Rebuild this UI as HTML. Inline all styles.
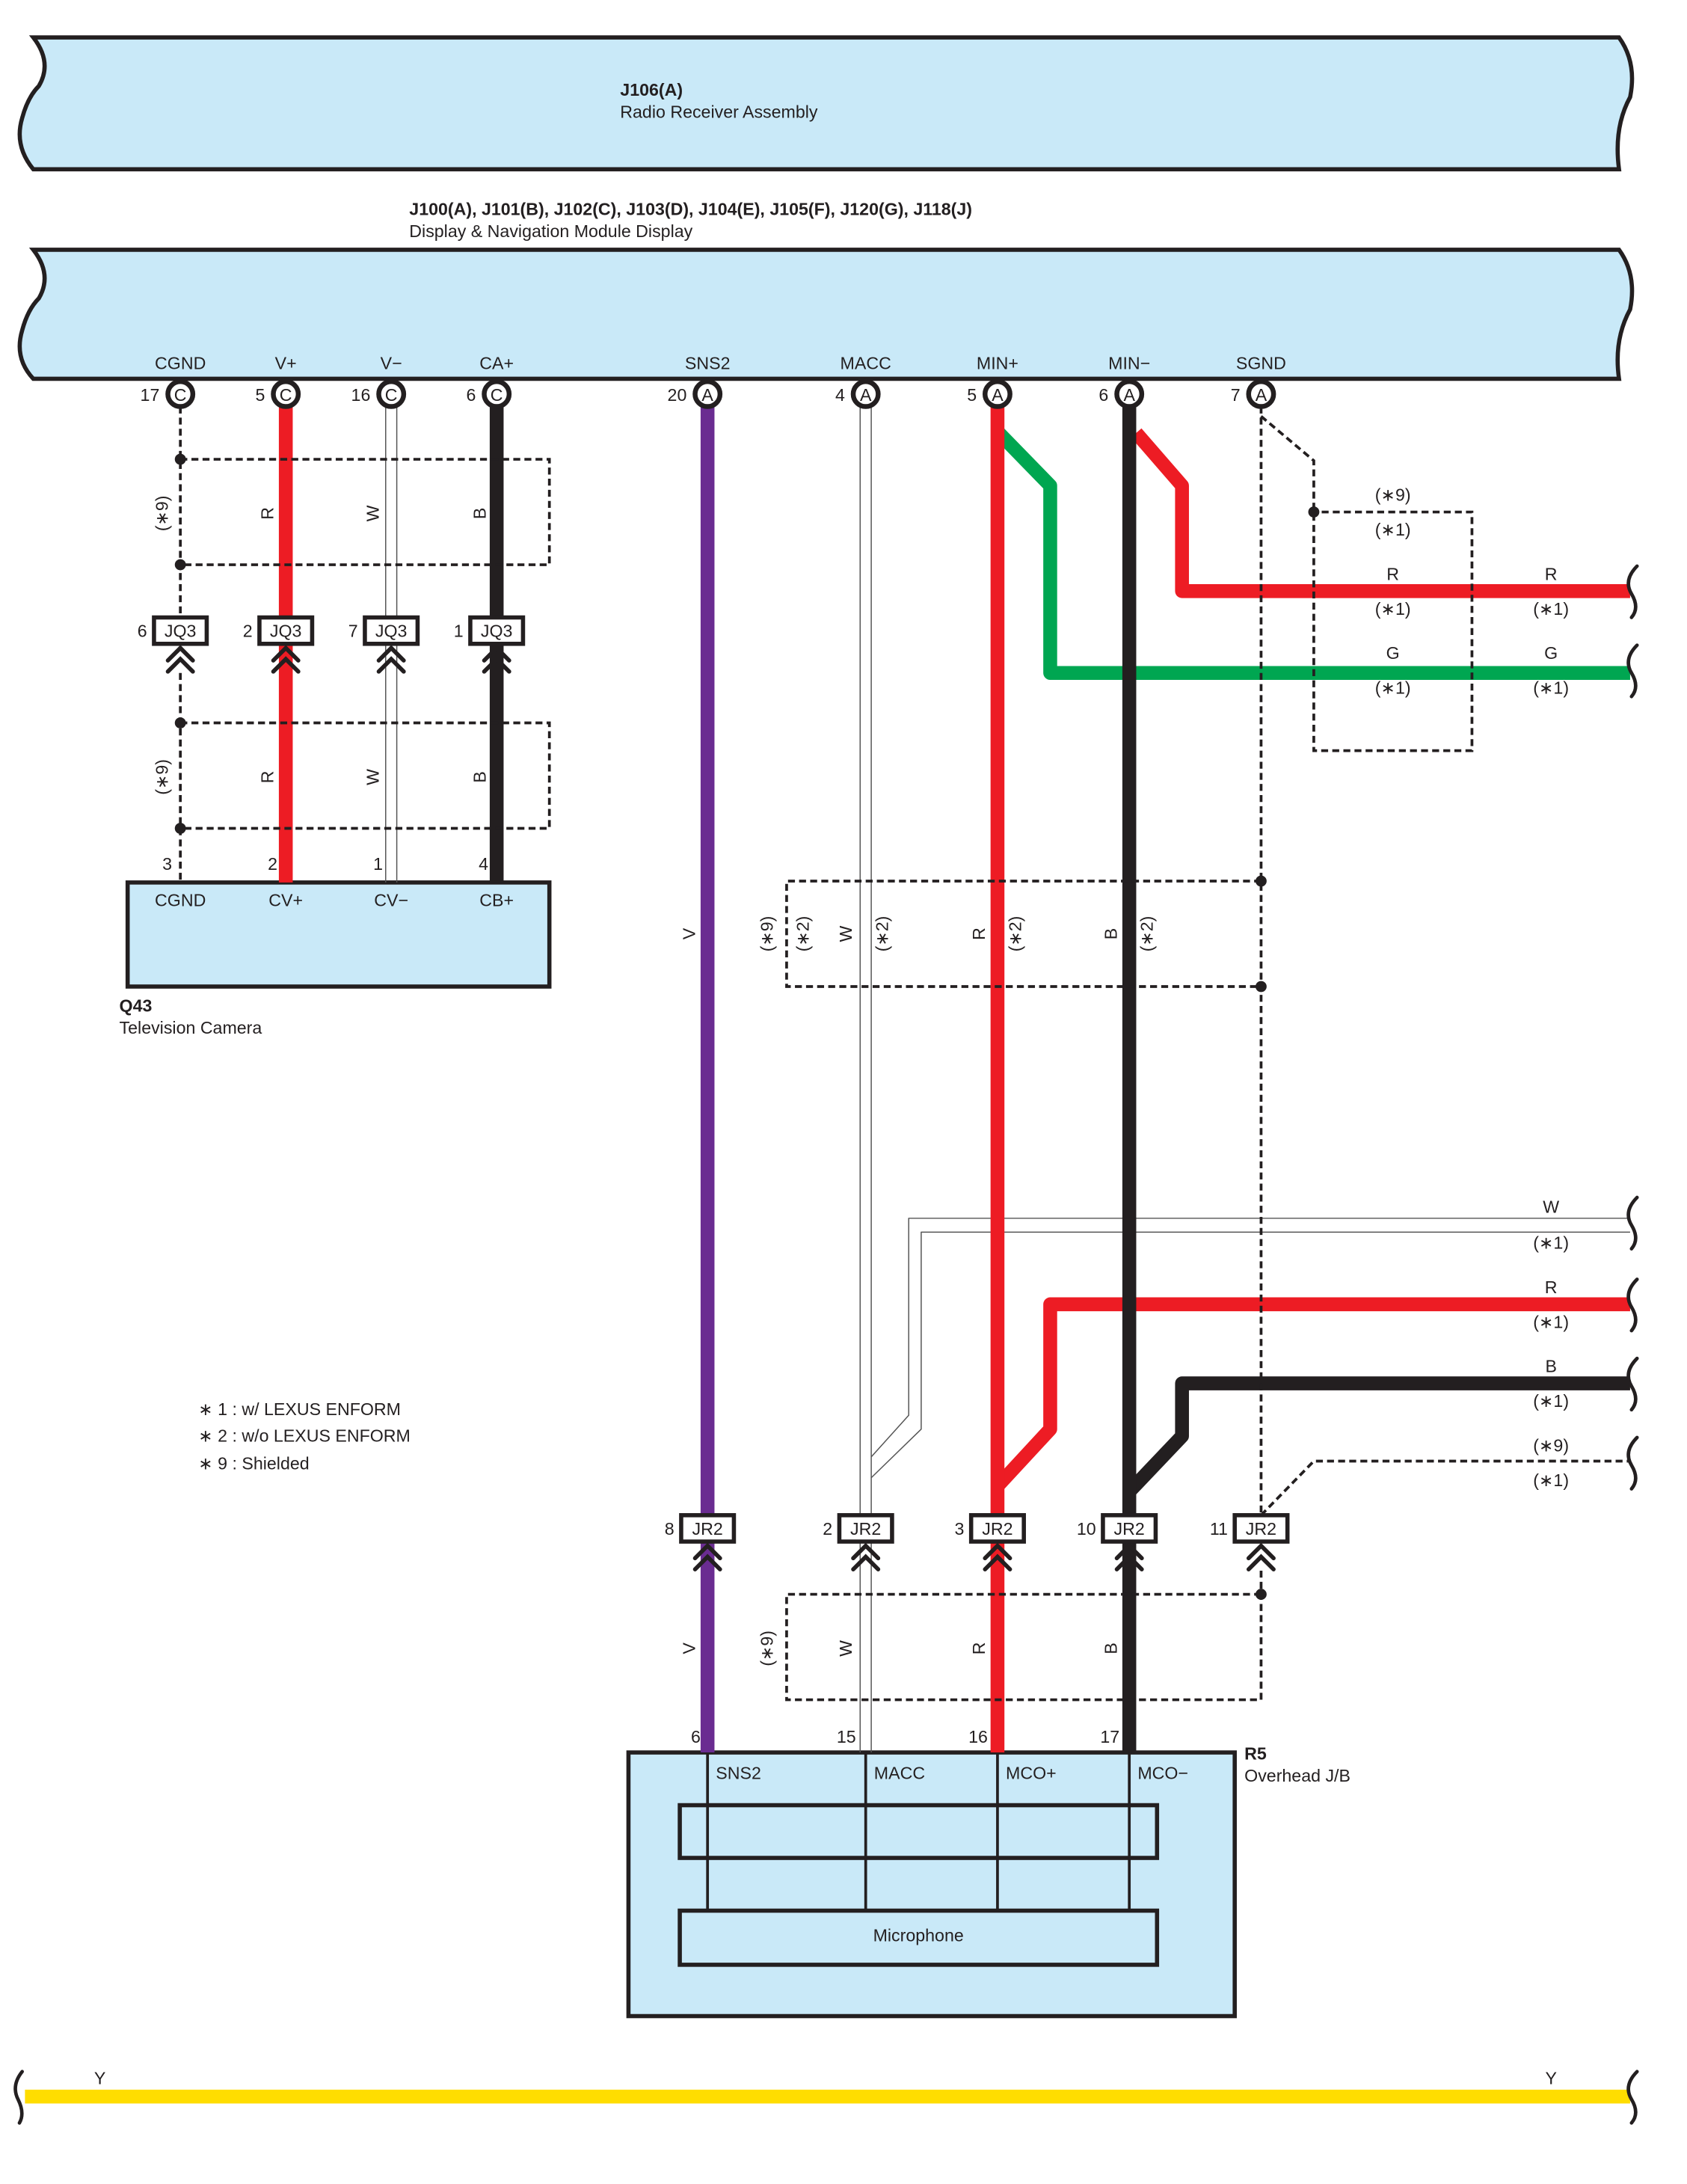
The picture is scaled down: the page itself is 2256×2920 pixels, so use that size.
<!DOCTYPE html>
<html><head><meta charset="utf-8"><style>
html,body{margin:0;padding:0;background:#fff}
svg{display:block}
text{font-family:"Liberation Sans",sans-serif;font-size:12.5px;fill:#231f20}
</style></head><body>
<svg width="2256" height="2920" viewBox="0 0 1216 1574" preserveAspectRatio="none" xmlns="http://www.w3.org/2000/svg">
<g stroke="#231f20" stroke-width="3" fill="#c9e9f8">
<path d="M24,27 L1167,27 Q1180,45 1175,70 Q1163,92 1167,122 L24,122 Q10,105 16,85 Q20,70 28,62 Q38,45 24,27 Z"/>
<path d="M24,180 L1167,180 Q1180,198 1175,223 Q1163,245 1167,273 L24,273 Q10,258 16,238 Q20,223 28,215 Q38,198 24,180 Z"/>
<rect x="92" y="636" width="304" height="75"/>
<rect x="453" y="1263" width="437" height="190"/>
<rect x="490" y="1301" width="344" height="38"/>
<rect x="490" y="1377" width="344" height="39"/>
</g>
<text x="447" y="69" style="font-weight:bold">J106(A)</text>
<text x="447" y="85">Radio Receiver Assembly</text>
<text x="295" y="155" style="font-weight:bold">J100(A), J101(B), J102(C), J103(D), J104(E), J105(F), J120(G), J118(J)</text>
<text x="295" y="171">Display &amp; Navigation Module Display</text>
<g text-anchor="middle">
<text x="130" y="266">CGND</text><text x="206" y="266">V+</text><text x="282" y="266">V−</text><text x="358" y="266">CA+</text>
<text x="510" y="266">SNS2</text><text x="624" y="266">MACC</text><text x="719" y="266">MIN+</text><text x="814" y="266">MIN−</text><text x="909" y="266">SGND</text>
</g>
<!-- wires -->
<g fill="none" stroke-linejoin="round">
<line x1="206" y1="293" x2="206" y2="636" stroke="#ed1c24" stroke-width="10"/>
<line x1="358" y1="293" x2="358" y2="636" stroke="#231f20" stroke-width="10"/>
<line x1="278" y1="293" x2="278" y2="636" stroke="#555" stroke-width="0.8"/>
<line x1="286" y1="293" x2="286" y2="636" stroke="#555" stroke-width="0.8"/>
<line x1="510" y1="293" x2="510" y2="1263" stroke="#6a2c91" stroke-width="10"/>
<line x1="620" y1="293" x2="620" y2="1263" stroke="#555" stroke-width="0.8"/>
<line x1="628" y1="293" x2="628" y2="1263" stroke="#555" stroke-width="0.8"/>
<path d="M628,1050 L655,1020 L655,878 L1175,878" stroke="#555" stroke-width="0.8"/>
<path d="M628,1065 L664,1030 L664,888 L1175,888" stroke="#555" stroke-width="0.8"/>
<path d="M720,312 L757,350 L757,485 L1175,485" stroke="#00a651" stroke-width="10"/>
<path d="M720,1070 L757,1030 L757,940 L1175,940" stroke="#ed1c24" stroke-width="10"/>
<line x1="719" y1="293" x2="719" y2="1263" stroke="#ed1c24" stroke-width="10"/>
<path d="M819,312 L852,350 L852,426 L1175,426" stroke="#ed1c24" stroke-width="10"/>
<path d="M814,1075 L852,1035 L852,997 L1175,997" stroke="#231f20" stroke-width="10"/>
<line x1="814" y1="293" x2="814" y2="1263" stroke="#231f20" stroke-width="10"/>
<line x1="18" y1="1511" x2="1175" y2="1511" stroke="#ffdd00" stroke-width="10"/>
</g>
<!-- dashed -->
<g fill="none" stroke="#231f20" stroke-width="2" stroke-dasharray="5 3">
<line x1="130" y1="293" x2="130" y2="445"/><line x1="130" y1="485" x2="130" y2="636"/>
<path d="M130,331 L396,331 L396,407 L130,407"/>
<path d="M130,521 L396,521 L396,597 L130,597"/>
<line x1="909" y1="293" x2="909" y2="1092"/>
<path d="M909,300 L947,332 L947,541 L1061,541 L1061,369 L947,369"/>
<path d="M909,1092 L947,1053 L1175,1053"/>
<path d="M909,635 L567,635 L567,711 L909,711"/>
<line x1="909" y1="1132" x2="909" y2="1225"/>
<path d="M909,1149 L567,1149 L567,1225 L909,1225"/>
</g>
<g fill="#231f20">
<circle cx="130" cy="331" r="4"/><circle cx="130" cy="407" r="4"/><circle cx="130" cy="521" r="4"/><circle cx="130" cy="597" r="4"/>
<circle cx="947" cy="369" r="4"/><circle cx="909" cy="635" r="4"/><circle cx="909" cy="711" r="4"/><circle cx="909" cy="1149" r="4"/>
</g>
<!-- inner R5 lines -->
<g stroke="#231f20" stroke-width="2">
<line x1="510" y1="1263" x2="510" y2="1377"/><line x1="624" y1="1263" x2="624" y2="1377"/>
<line x1="719" y1="1263" x2="719" y2="1377"/><line x1="814" y1="1263" x2="814" y2="1377"/>
</g>
<!-- pin circles -->
<g fill="#fff" stroke="#231f20" stroke-width="3.5">
<circle cx="130" cy="284" r="9"/><circle cx="206" cy="284" r="9"/><circle cx="282" cy="284" r="9"/><circle cx="358" cy="284" r="9"/>
<circle cx="510" cy="284" r="9"/><circle cx="624" cy="284" r="9"/><circle cx="719" cy="284" r="9"/><circle cx="814" cy="284" r="9"/><circle cx="909" cy="284" r="9"/>
</g>
<g text-anchor="middle" style="font-size:12px">
<text x="130" y="289">C</text><text x="206" y="289">C</text><text x="282" y="289">C</text><text x="358" y="289">C</text>
<text x="510" y="289">A</text><text x="624" y="289">A</text><text x="719" y="289">A</text><text x="814" y="289">A</text><text x="909" y="289">A</text>
</g>
<g text-anchor="end">
<text x="115" y="289">17</text><text x="191" y="289">5</text><text x="267" y="289">16</text><text x="343" y="289">6</text>
<text x="495" y="289">20</text><text x="609" y="289">4</text><text x="704" y="289">5</text><text x="799" y="289">6</text><text x="894" y="289">7</text>
</g>
<!-- JQ3 connectors -->
<g fill="#fff" stroke="#231f20" stroke-width="3">
<rect x="111" y="445" width="38" height="19"/><rect x="187" y="445" width="38" height="19"/><rect x="263" y="445" width="38" height="19"/><rect x="339" y="445" width="38" height="19"/>
<rect x="491" y="1092" width="38" height="19"/><rect x="605" y="1092" width="38" height="19"/><rect x="700" y="1092" width="38" height="19"/><rect x="795" y="1092" width="38" height="19"/><rect x="890" y="1092" width="38" height="19"/>
</g>
<g fill="none" stroke="#231f20" stroke-width="3" stroke-linecap="round">
<path d="M121,476 L130,467 L139,476 M121,484 L130,475 L139,484"/>
<path d="M197,476 L206,467 L215,476 M197,484 L206,475 L215,484"/>
<path d="M273,476 L282,467 L291,476 M273,484 L282,475 L291,484"/>
<path d="M349,476 L358,467 L367,476 M349,484 L358,475 L367,484"/>
<path d="M501,1123 L510,1114 L519,1123 M501,1131 L510,1122 L519,1131"/>
<path d="M615,1123 L624,1114 L633,1123 M615,1131 L624,1122 L633,1131"/>
<path d="M710,1123 L719,1114 L728,1123 M710,1131 L719,1122 L728,1131"/>
<path d="M805,1123 L814,1114 L823,1123 M805,1131 L814,1122 L823,1131"/>
<path d="M900,1123 L909,1114 L918,1123 M900,1131 L909,1122 L918,1131"/>
</g>
<g text-anchor="middle">
<text x="130" y="459">JQ3</text><text x="206" y="459">JQ3</text><text x="282" y="459">JQ3</text><text x="358" y="459">JQ3</text>
<text x="510" y="1106">JR2</text><text x="624" y="1106">JR2</text><text x="719" y="1106">JR2</text><text x="814" y="1106">JR2</text><text x="909" y="1106">JR2</text>
</g>
<g text-anchor="end">
<text x="106" y="459">6</text><text x="182" y="459">2</text><text x="258" y="459">7</text><text x="334" y="459">1</text>
<text x="486" y="1106">8</text><text x="600" y="1106">2</text><text x="695" y="1106">3</text><text x="790" y="1106">10</text><text x="885" y="1106">11</text>
<text x="124" y="627">3</text><text x="200" y="627">2</text><text x="276" y="627">1</text><text x="352" y="627">4</text>
<text x="505" y="1256">6</text><text x="617" y="1256">15</text><text x="712" y="1256">16</text><text x="807" y="1256">17</text>
</g>
<!-- rotated labels -->
<g text-anchor="middle">
<text transform="translate(121,370) rotate(-90)">(∗9)</text>
<text transform="translate(197,370) rotate(-90)">R</text>
<text transform="translate(273,370) rotate(-90)">W</text>
<text transform="translate(350,370) rotate(-90)">B</text>
<text transform="translate(121,560) rotate(-90)">(∗9)</text>
<text transform="translate(197,560) rotate(-90)">R</text>
<text transform="translate(273,560) rotate(-90)">W</text>
<text transform="translate(350,560) rotate(-90)">B</text>
<text transform="translate(501,673) rotate(-90)">V</text>
<text transform="translate(557,673) rotate(-90)">(∗9)</text>
<text transform="translate(583,673) rotate(-90)">(∗2)</text>
<text transform="translate(614,673) rotate(-90)">W</text>
<text transform="translate(640,673) rotate(-90)">(∗2)</text>
<text transform="translate(710,673) rotate(-90)">R</text>
<text transform="translate(736,673) rotate(-90)">(∗2)</text>
<text transform="translate(805,673) rotate(-90)">B</text>
<text transform="translate(831,673) rotate(-90)">(∗2)</text>
<text transform="translate(501,1188) rotate(-90)">V</text>
<text transform="translate(557,1188) rotate(-90)">(∗9)</text>
<text transform="translate(614,1188) rotate(-90)">W</text>
<text transform="translate(710,1188) rotate(-90)">R</text>
<text transform="translate(805,1188) rotate(-90)">B</text>
</g>
<!-- right labels -->
<g text-anchor="middle">
<text x="1004" y="361">(∗9)</text><text x="1004" y="386">(∗1)</text>
<text x="1004" y="418">R</text><text x="1004" y="443">(∗1)</text>
<text x="1004" y="475">G</text><text x="1004" y="500">(∗1)</text>
<text x="1118" y="418">R</text><text x="1118" y="443">(∗1)</text>
<text x="1118" y="475">G</text><text x="1118" y="500">(∗1)</text>
<text x="1118" y="874">W</text><text x="1118" y="900">(∗1)</text>
<text x="1118" y="932">R</text><text x="1118" y="957">(∗1)</text>
<text x="1118" y="989">B</text><text x="1118" y="1014">(∗1)</text>
<text x="1118" y="1046">(∗9)</text><text x="1118" y="1071">(∗1)</text>
<text x="72" y="1502">Y</text><text x="1118" y="1502">Y</text>
</g>
<!-- end squiggles -->
<g fill="none" stroke="#231f20" stroke-width="2.5" stroke-linecap="round">
<path d="M1180,408 Q1170,418 1176,428 Q1182,438 1176,445"/>
<path d="M1180,465 Q1170,475 1176,485 Q1182,495 1176,502"/>
<path d="M1180,863 Q1170,873 1176,883 Q1182,893 1176,900"/>
<path d="M1180,922 Q1170,932 1176,942 Q1182,952 1176,959"/>
<path d="M1180,979 Q1170,989 1176,999 Q1182,1009 1176,1016"/>
<path d="M1180,1036 Q1170,1046 1176,1056 Q1182,1066 1176,1073"/>
<path d="M1180,1493 Q1170,1503 1176,1513 Q1182,1523 1176,1530"/>
<path d="M16,1493 Q8,1503 13,1513 Q18,1523 14,1530"/>
</g>
<!-- component labels -->
<g text-anchor="middle">
<text x="130" y="653">CGND</text><text x="206" y="653">CV+</text><text x="282" y="653">CV−</text><text x="358" y="653">CB+</text>
<text x="662" y="1399">Microphone</text>
</g>
<text x="516" y="1282">SNS2</text><text x="630" y="1282">MACC</text><text x="725" y="1282">MCO+</text><text x="820" y="1282">MCO−</text>
<text x="86" y="729" style="font-weight:bold">Q43</text>
<text x="86" y="745">Television Camera</text>
<text x="897" y="1268" style="font-weight:bold">R5</text>
<text x="897" y="1284">Overhead J/B</text>
<text x="143" y="1020">∗ 1 : w/ LEXUS ENFORM</text>
<text x="143" y="1039">∗ 2 : w/o LEXUS ENFORM</text>
<text x="143" y="1059">∗ 9 : Shielded</text>
</svg>
</body></html>
